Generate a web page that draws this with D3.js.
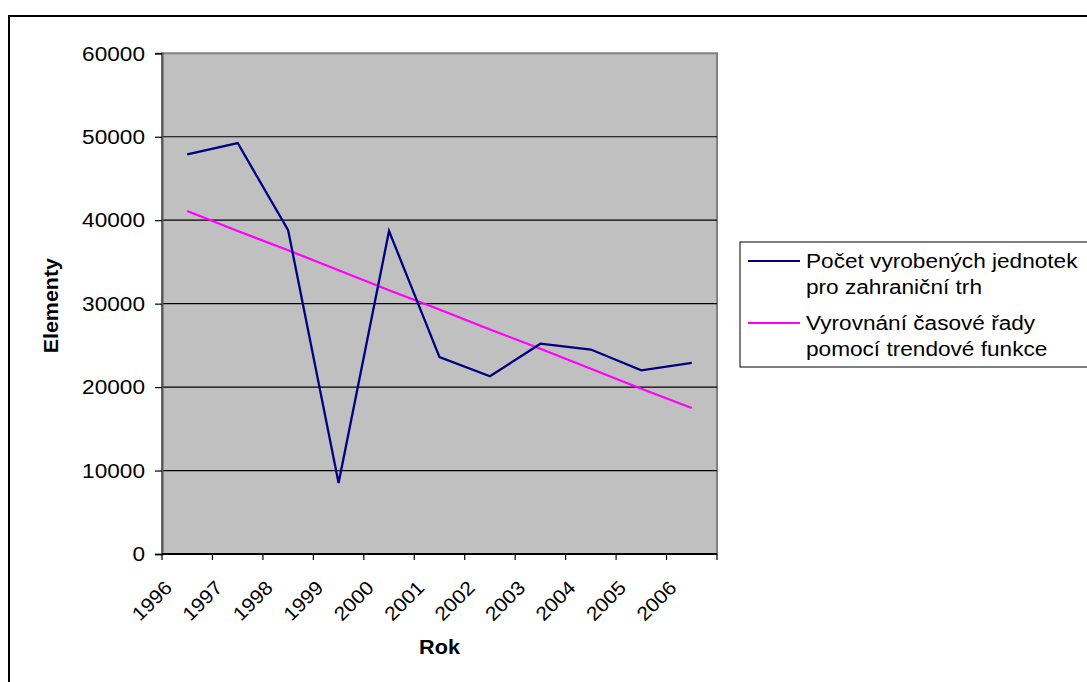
<!DOCTYPE html>
<html>
<head>
<meta charset="utf-8">
<script src="https://cdn.jsdelivr.net/npm/d3@7"></script>
<style>
  html, body { margin: 0; padding: 0; background: #fff; }
  svg { display: block; }
  text { font-family: "Liberation Sans", Arial, sans-serif; fill: #000; }
</style>
</head>
<body>
<svg id="chart" width="1087" height="682"></svg>
<script>
// ---- data ----
const categories = ["1996","1997","1998","1999","2000","2001","2002","2003","2004","2005","2006"];
const production = [47900, 49250, 38800, 8500, 38700, 23600, 21300, 25200, 24500, 22000, 22900];
const trend = [41100, 38700, 36400, 34000, 31600, 29300, 26900, 24600, 22200, 19800, 17500];
const yTicks = [0, 10000, 20000, 30000, 40000, 50000, 60000];
const seriesNames = [
  ["Počet vyrobených jednotek", "pro zahraniční trh"],
  ["Vyrovnání časové řady", "pomocí trendové funkce"]
];
const xTitle = "Rok";
const yTitle = "Elementy";

// ---- layout ----
const W = 1087, H = 682;
const plot = { left: 162, right: 717, top: 53.3, bottom: 554 };
const colors = { production: "#000080", trend: "#FF00FF" };

const svg = d3.select("#chart");

// outer frame
svg.append("rect")
  .attr("x", 9).attr("y", 16)
  .attr("width", W + 20).attr("height", H + 20)
  .attr("fill", "none").attr("stroke", "#000").attr("stroke-width", 2);

const x = d3.scaleBand().domain(categories).range([plot.left, plot.right]).padding(0);
const y = d3.scaleLinear().domain([0, 60000]).range([plot.bottom, plot.top]);
const cx = c => x(c) + x.bandwidth() / 2;

// plot area
svg.append("rect")
  .attr("x", plot.left).attr("y", plot.top)
  .attr("width", plot.right - plot.left).attr("height", plot.bottom - plot.top)
  .attr("fill", "#C0C0C0").attr("stroke", "#808080").attr("stroke-width", 2);

// gridlines
svg.append("g").selectAll("line")
  .data(yTicks.filter(v => v > 0 && v < 60000))
  .join("line")
  .attr("x1", plot.left).attr("x2", plot.right)
  .attr("y1", d => y(d)).attr("y2", d => y(d))
  .attr("stroke", "#000").attr("stroke-width", 1.2);

// y axis
const yAxis = svg.append("g")
  .attr("transform", `translate(${plot.left},0)`)
  .call(d3.axisLeft(y).tickValues(yTicks).tickSize(7).tickPadding(0).tickFormat(d3.format("d")));
yAxis.select(".domain").attr("stroke", "#555").attr("stroke-width", 2);
yAxis.selectAll(".tick line").attr("stroke", "#000").attr("stroke-width", 1.2);
yAxis.selectAll(".tick text").remove();
yAxis.selectAll(".tick").append("text")
  .attr("text-anchor", "end")
  .attr("transform", "translate(-17,6.7) scale(1.16,1)")
  .attr("font-size", 19.5)
  .attr("fill", "#000")
  .text(d => d3.format("d")(d));

// x axis line and tick marks at band boundaries
svg.append("line")
  .attr("x1", plot.left).attr("x2", plot.right)
  .attr("y1", plot.bottom).attr("y2", plot.bottom)
  .attr("stroke", "#000").attr("stroke-width", 2);
const bounds = categories.map(c => x(c)).concat([x.range()[1]]);
svg.append("g").selectAll("line")
  .data(bounds)
  .join("line")
  .attr("x1", d => d).attr("x2", d => d)
  .attr("y1", plot.bottom).attr("y2", plot.bottom + 6)
  .attr("stroke", "#000").attr("stroke-width", 1.2);

// x tick labels
svg.append("g").selectAll("text")
  .data(categories)
  .join("text")
  .attr("text-anchor", "end")
  .attr("font-size", 19.5)
  .attr("transform", d => `translate(${cx(d) - 14},${589}) rotate(-45) scale(1.08,1)`)
  .text(d => d);

// axis titles
svg.append("text")
  .attr("text-anchor", "middle")
  .attr("font-weight", "bold")
  .attr("font-size", 19.5)
  .attr("transform", `translate(${(plot.left + plot.right) / 2},654) scale(1.11,1)`)
  .text(xTitle);
svg.append("text")
  .attr("text-anchor", "middle")
  .attr("font-weight", "bold")
  .attr("font-size", 19.5)
  .attr("transform", `translate(57.5,${(plot.top + plot.bottom) / 2 + 2}) rotate(-90) scale(1.1,1)`)
  .text(yTitle);

// series lines
const line = d3.line().x((d, i) => cx(categories[i])).y(d => y(d));
svg.append("path")
  .datum(trend)
  .attr("d", line)
  .attr("fill", "none").attr("stroke", colors.trend).attr("stroke-width", 2.2);
svg.append("path")
  .datum(production)
  .attr("d", line)
  .attr("fill", "none").attr("stroke", colors.production).attr("stroke-width", 2.3)
  .attr("stroke-linejoin", "miter");

// legend
const lg = svg.append("g");
lg.append("rect")
  .attr("x", 740).attr("y", 242)
  .attr("width", 400).attr("height", 125)
  .attr("fill", "#fff").attr("stroke", "#000").attr("stroke-width", 1);
const legendItems = [
  { name: seriesNames[0], color: colors.production, ly: 261, baselines: [268, 294] },
  { name: seriesNames[1], color: colors.trend, ly: 323, baselines: [330, 356] }
];
legendItems.forEach(it => {
  lg.append("line")
    .attr("x1", 748).attr("x2", 800)
    .attr("y1", it.ly).attr("y2", it.ly)
    .attr("stroke", it.color).attr("stroke-width", 2);
  it.name.forEach((t, k) => {
    lg.append("text")
      .attr("font-size", 19.5)
      .attr("transform", `translate(806,${it.baselines[k]}) scale(1.16,1)`)
      .text(t);
  });
});
</script>
</body>
</html>
